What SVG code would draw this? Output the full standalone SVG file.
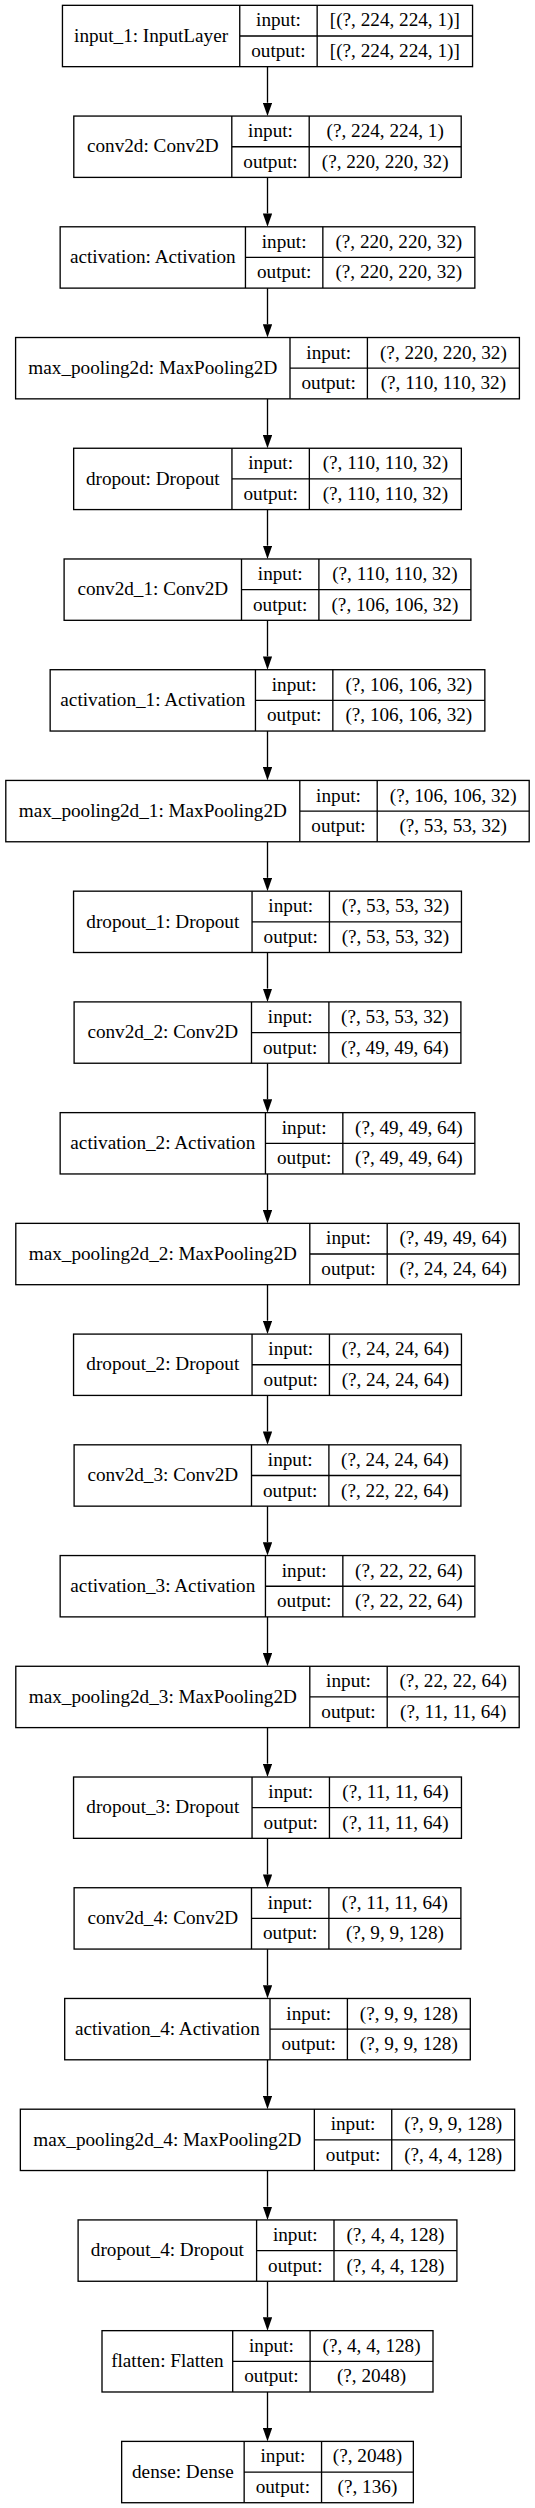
<svg xmlns="http://www.w3.org/2000/svg" width="535" height="2508" viewBox="0 0 535 2508">
<style>
.box{fill:#fff;stroke:#000;stroke-width:1.33}
.div{fill:none;stroke:#000;stroke-width:1.33}
text{font-family:"Liberation Serif","Times New Roman",serif;font-size:19.2px;fill:#000;text-anchor:middle}
.edge{stroke:#000;stroke-width:1.33;fill:none;marker-end:url(#ah)}
</style>
<defs>
<marker id="ah" viewBox="0 0 13.33 9.33" refX="0" refY="4.67" markerWidth="13.33" markerHeight="9.33" markerUnits="userSpaceOnUse" orient="auto">
<path d="M0,0 L13.33,4.67 L0,9.33 Z" fill="#000"/>
</marker>
</defs>
<rect x="0" y="0" width="535" height="2508" fill="#fff"/>
<g id="connectors">
<line class="edge" x1="267.5" y1="66.66" x2="267.5" y2="102.73"/>
<line class="edge" x1="267.5" y1="177.39" x2="267.5" y2="213.46"/>
<line class="edge" x1="267.5" y1="288.12" x2="267.5" y2="324.19"/>
<line class="edge" x1="267.5" y1="398.85" x2="267.5" y2="434.92"/>
<line class="edge" x1="267.5" y1="509.58" x2="267.5" y2="545.65"/>
<line class="edge" x1="267.5" y1="620.31" x2="267.5" y2="656.38"/>
<line class="edge" x1="267.5" y1="731.04" x2="267.5" y2="767.11"/>
<line class="edge" x1="267.5" y1="841.77" x2="267.5" y2="877.84"/>
<line class="edge" x1="267.5" y1="952.50" x2="267.5" y2="988.57"/>
<line class="edge" x1="267.5" y1="1063.23" x2="267.5" y2="1099.30"/>
<line class="edge" x1="267.5" y1="1173.96" x2="267.5" y2="1210.03"/>
<line class="edge" x1="267.5" y1="1284.69" x2="267.5" y2="1320.76"/>
<line class="edge" x1="267.5" y1="1395.42" x2="267.5" y2="1431.49"/>
<line class="edge" x1="267.5" y1="1506.15" x2="267.5" y2="1542.22"/>
<line class="edge" x1="267.5" y1="1616.88" x2="267.5" y2="1652.95"/>
<line class="edge" x1="267.5" y1="1727.61" x2="267.5" y2="1763.68"/>
<line class="edge" x1="267.5" y1="1838.34" x2="267.5" y2="1874.41"/>
<line class="edge" x1="267.5" y1="1949.07" x2="267.5" y2="1985.14"/>
<line class="edge" x1="267.5" y1="2059.80" x2="267.5" y2="2095.87"/>
<line class="edge" x1="267.5" y1="2170.53" x2="267.5" y2="2206.60"/>
<line class="edge" x1="267.5" y1="2281.26" x2="267.5" y2="2317.33"/>
<line class="edge" x1="267.5" y1="2391.99" x2="267.5" y2="2428.06"/>
</g>
<g id="input_1" transform="translate(0,5.33)">
<rect class="box" x="62.45" y="0" width="410.1" height="61.33"/>
<path class="div" d="M239.75 0V61.33M317.15 0V61.33M239.75 30.67H472.55"/>
<text x="151.1" y="36.4">input_1: InputLayer</text>
<text x="278.45" y="21.1">input:</text><text x="278.45" y="51.7">output:</text>
<text x="394.85" y="21.1">[(?, 224, 224, 1)]</text><text x="394.85" y="51.7">[(?, 224, 224, 1)]</text>
</g>
<g id="conv2d" transform="translate(0,116.06)">
<rect class="box" x="73.8" y="0" width="387.4" height="61.33"/>
<path class="div" d="M231.8 0V61.33M309.2 0V61.33M231.8 30.67H461.2"/>
<text x="152.8" y="36.4">conv2d: Conv2D</text>
<text x="270.5" y="21.1">input:</text><text x="270.5" y="51.7">output:</text>
<text x="385.2" y="21.1">(?, 224, 224, 1)</text><text x="385.2" y="51.7">(?, 220, 220, 32)</text>
</g>
<g id="activation" transform="translate(0,226.79)">
<rect class="box" x="60.15" y="0" width="414.7" height="61.33"/>
<path class="div" d="M245.45 0V61.33M322.85 0V61.33M245.45 30.67H474.85"/>
<text x="152.8" y="36.4">activation: Activation</text>
<text x="284.15" y="21.1">input:</text><text x="284.15" y="51.7">output:</text>
<text x="398.85" y="21.1">(?, 220, 220, 32)</text><text x="398.85" y="51.7">(?, 220, 220, 32)</text>
</g>
<g id="max_pooling2d" transform="translate(0,337.52)">
<rect class="box" x="15.6" y="0" width="503.8" height="61.33"/>
<path class="div" d="M290 0V61.33M367.4 0V61.33M290 30.67H519.4"/>
<text x="152.8" y="36.4">max_pooling2d: MaxPooling2D</text>
<text x="328.7" y="21.1">input:</text><text x="328.7" y="51.7">output:</text>
<text x="443.4" y="21.1">(?, 220, 220, 32)</text><text x="443.4" y="51.7">(?, 110, 110, 32)</text>
</g>
<g id="dropout" transform="translate(0,448.25)">
<rect class="box" x="73.65" y="0" width="387.7" height="61.33"/>
<path class="div" d="M231.95 0V61.33M309.35 0V61.33M231.95 30.67H461.35"/>
<text x="152.8" y="36.4">dropout: Dropout</text>
<text x="270.65" y="21.1">input:</text><text x="270.65" y="51.7">output:</text>
<text x="385.35" y="21.1">(?, 110, 110, 32)</text><text x="385.35" y="51.7">(?, 110, 110, 32)</text>
</g>
<g id="conv2d_1" transform="translate(0,558.98)">
<rect class="box" x="64.1" y="0" width="406.8" height="61.33"/>
<path class="div" d="M241.5 0V61.33M318.9 0V61.33M241.5 30.67H470.9"/>
<text x="152.8" y="36.4">conv2d_1: Conv2D</text>
<text x="280.2" y="21.1">input:</text><text x="280.2" y="51.7">output:</text>
<text x="394.9" y="21.1">(?, 110, 110, 32)</text><text x="394.9" y="51.7">(?, 106, 106, 32)</text>
</g>
<g id="activation_1" transform="translate(0,669.71)">
<rect class="box" x="50.15" y="0" width="434.7" height="61.33"/>
<path class="div" d="M255.45 0V61.33M332.85 0V61.33M255.45 30.67H484.85"/>
<text x="152.8" y="36.4">activation_1: Activation</text>
<text x="294.15" y="21.1">input:</text><text x="294.15" y="51.7">output:</text>
<text x="408.85" y="21.1">(?, 106, 106, 32)</text><text x="408.85" y="51.7">(?, 106, 106, 32)</text>
</g>
<g id="max_pooling2d_1" transform="translate(0,780.44)">
<rect class="box" x="5.8" y="0" width="523.4" height="61.33"/>
<path class="div" d="M299.8 0V61.33M377.2 0V61.33M299.8 30.67H529.2"/>
<text x="152.8" y="36.4">max_pooling2d_1: MaxPooling2D</text>
<text x="338.5" y="21.1">input:</text><text x="338.5" y="51.7">output:</text>
<text x="453.2" y="21.1">(?, 106, 106, 32)</text><text x="453.2" y="51.7">(?, 53, 53, 32)</text>
</g>
<g id="dropout_1" transform="translate(0,891.17)">
<rect class="box" x="73.55" y="0" width="387.9" height="61.33"/>
<path class="div" d="M252.05 0V61.33M329.45 0V61.33M252.05 30.67H461.45"/>
<text x="162.8" y="36.4">dropout_1: Dropout</text>
<text x="290.75" y="21.1">input:</text><text x="290.75" y="51.7">output:</text>
<text x="395.45" y="21.1">(?, 53, 53, 32)</text><text x="395.45" y="51.7">(?, 53, 53, 32)</text>
</g>
<g id="conv2d_2" transform="translate(0,1001.90)">
<rect class="box" x="74.1" y="0" width="386.8" height="61.33"/>
<path class="div" d="M251.5 0V61.33M328.9 0V61.33M251.5 30.67H460.9"/>
<text x="162.8" y="36.4">conv2d_2: Conv2D</text>
<text x="290.2" y="21.1">input:</text><text x="290.2" y="51.7">output:</text>
<text x="394.9" y="21.1">(?, 53, 53, 32)</text><text x="394.9" y="51.7">(?, 49, 49, 64)</text>
</g>
<g id="activation_2" transform="translate(0,1112.63)">
<rect class="box" x="60.15" y="0" width="414.7" height="61.33"/>
<path class="div" d="M265.45 0V61.33M342.85 0V61.33M265.45 30.67H474.85"/>
<text x="162.8" y="36.4">activation_2: Activation</text>
<text x="304.15" y="21.1">input:</text><text x="304.15" y="51.7">output:</text>
<text x="408.85" y="21.1">(?, 49, 49, 64)</text><text x="408.85" y="51.7">(?, 49, 49, 64)</text>
</g>
<g id="max_pooling2d_2" transform="translate(0,1223.36)">
<rect class="box" x="15.8" y="0" width="503.4" height="61.33"/>
<path class="div" d="M309.8 0V61.33M387.2 0V61.33M309.8 30.67H519.2"/>
<text x="162.8" y="36.4">max_pooling2d_2: MaxPooling2D</text>
<text x="348.5" y="21.1">input:</text><text x="348.5" y="51.7">output:</text>
<text x="453.2" y="21.1">(?, 49, 49, 64)</text><text x="453.2" y="51.7">(?, 24, 24, 64)</text>
</g>
<g id="dropout_2" transform="translate(0,1334.09)">
<rect class="box" x="73.55" y="0" width="387.9" height="61.33"/>
<path class="div" d="M252.05 0V61.33M329.45 0V61.33M252.05 30.67H461.45"/>
<text x="162.8" y="36.4">dropout_2: Dropout</text>
<text x="290.75" y="21.1">input:</text><text x="290.75" y="51.7">output:</text>
<text x="395.45" y="21.1">(?, 24, 24, 64)</text><text x="395.45" y="51.7">(?, 24, 24, 64)</text>
</g>
<g id="conv2d_3" transform="translate(0,1444.82)">
<rect class="box" x="74.1" y="0" width="386.8" height="61.33"/>
<path class="div" d="M251.5 0V61.33M328.9 0V61.33M251.5 30.67H460.9"/>
<text x="162.8" y="36.4">conv2d_3: Conv2D</text>
<text x="290.2" y="21.1">input:</text><text x="290.2" y="51.7">output:</text>
<text x="394.9" y="21.1">(?, 24, 24, 64)</text><text x="394.9" y="51.7">(?, 22, 22, 64)</text>
</g>
<g id="activation_3" transform="translate(0,1555.55)">
<rect class="box" x="60.15" y="0" width="414.7" height="61.33"/>
<path class="div" d="M265.45 0V61.33M342.85 0V61.33M265.45 30.67H474.85"/>
<text x="162.8" y="36.4">activation_3: Activation</text>
<text x="304.15" y="21.1">input:</text><text x="304.15" y="51.7">output:</text>
<text x="408.85" y="21.1">(?, 22, 22, 64)</text><text x="408.85" y="51.7">(?, 22, 22, 64)</text>
</g>
<g id="max_pooling2d_3" transform="translate(0,1666.28)">
<rect class="box" x="15.8" y="0" width="503.4" height="61.33"/>
<path class="div" d="M309.8 0V61.33M387.2 0V61.33M309.8 30.67H519.2"/>
<text x="162.8" y="36.4">max_pooling2d_3: MaxPooling2D</text>
<text x="348.5" y="21.1">input:</text><text x="348.5" y="51.7">output:</text>
<text x="453.2" y="21.1">(?, 22, 22, 64)</text><text x="453.2" y="51.7">(?, 11, 11, 64)</text>
</g>
<g id="dropout_3" transform="translate(0,1777.01)">
<rect class="box" x="73.55" y="0" width="387.9" height="61.33"/>
<path class="div" d="M252.05 0V61.33M329.45 0V61.33M252.05 30.67H461.45"/>
<text x="162.8" y="36.4">dropout_3: Dropout</text>
<text x="290.75" y="21.1">input:</text><text x="290.75" y="51.7">output:</text>
<text x="395.45" y="21.1">(?, 11, 11, 64)</text><text x="395.45" y="51.7">(?, 11, 11, 64)</text>
</g>
<g id="conv2d_4" transform="translate(0,1887.74)">
<rect class="box" x="74.1" y="0" width="386.8" height="61.33"/>
<path class="div" d="M251.5 0V61.33M328.9 0V61.33M251.5 30.67H460.9"/>
<text x="162.8" y="36.4">conv2d_4: Conv2D</text>
<text x="290.2" y="21.1">input:</text><text x="290.2" y="51.7">output:</text>
<text x="394.9" y="21.1">(?, 11, 11, 64)</text><text x="394.9" y="51.7">(?, 9, 9, 128)</text>
</g>
<g id="activation_4" transform="translate(0,1998.47)">
<rect class="box" x="64.7" y="0" width="405.6" height="61.33"/>
<path class="div" d="M270 0V61.33M347.4 0V61.33M270 30.67H470.3"/>
<text x="167.35" y="36.4">activation_4: Activation</text>
<text x="308.7" y="21.1">input:</text><text x="308.7" y="51.7">output:</text>
<text x="408.85" y="21.1">(?, 9, 9, 128)</text><text x="408.85" y="51.7">(?, 9, 9, 128)</text>
</g>
<g id="max_pooling2d_4" transform="translate(0,2109.20)">
<rect class="box" x="20.35" y="0" width="494.3" height="61.33"/>
<path class="div" d="M314.35 0V61.33M391.75 0V61.33M314.35 30.67H514.65"/>
<text x="167.35" y="36.4">max_pooling2d_4: MaxPooling2D</text>
<text x="353.05" y="21.1">input:</text><text x="353.05" y="51.7">output:</text>
<text x="453.2" y="21.1">(?, 9, 9, 128)</text><text x="453.2" y="51.7">(?, 4, 4, 128)</text>
</g>
<g id="dropout_4" transform="translate(0,2219.93)">
<rect class="box" x="78.1" y="0" width="378.8" height="61.33"/>
<path class="div" d="M256.6 0V61.33M334 0V61.33M256.6 30.67H456.9"/>
<text x="167.35" y="36.4">dropout_4: Dropout</text>
<text x="295.3" y="21.1">input:</text><text x="295.3" y="51.7">output:</text>
<text x="395.45" y="21.1">(?, 4, 4, 128)</text><text x="395.45" y="51.7">(?, 4, 4, 128)</text>
</g>
<g id="flatten" transform="translate(0,2330.66)">
<rect class="box" x="102" y="0" width="331" height="61.33"/>
<path class="div" d="M232.7 0V61.33M310.1 0V61.33M232.7 30.67H433"/>
<text x="167.35" y="36.4">flatten: Flatten</text>
<text x="271.4" y="21.1">input:</text><text x="271.4" y="51.7">output:</text>
<text x="371.55" y="21.1">(?, 4, 4, 128)</text><text x="371.55" y="51.7">(?, 2048)</text>
</g>
<g id="dense" transform="translate(0,2441.39)">
<rect class="box" x="121.65" y="0" width="291.7" height="61.33"/>
<path class="div" d="M244.15 0V61.33M321.55 0V61.33M244.15 30.67H413.35"/>
<text x="182.9" y="36.4">dense: Dense</text>
<text x="282.85" y="21.1">input:</text><text x="282.85" y="51.7">output:</text>
<text x="367.45" y="21.1">(?, 2048)</text><text x="367.45" y="51.7">(?, 136)</text>
</g>
</svg>
